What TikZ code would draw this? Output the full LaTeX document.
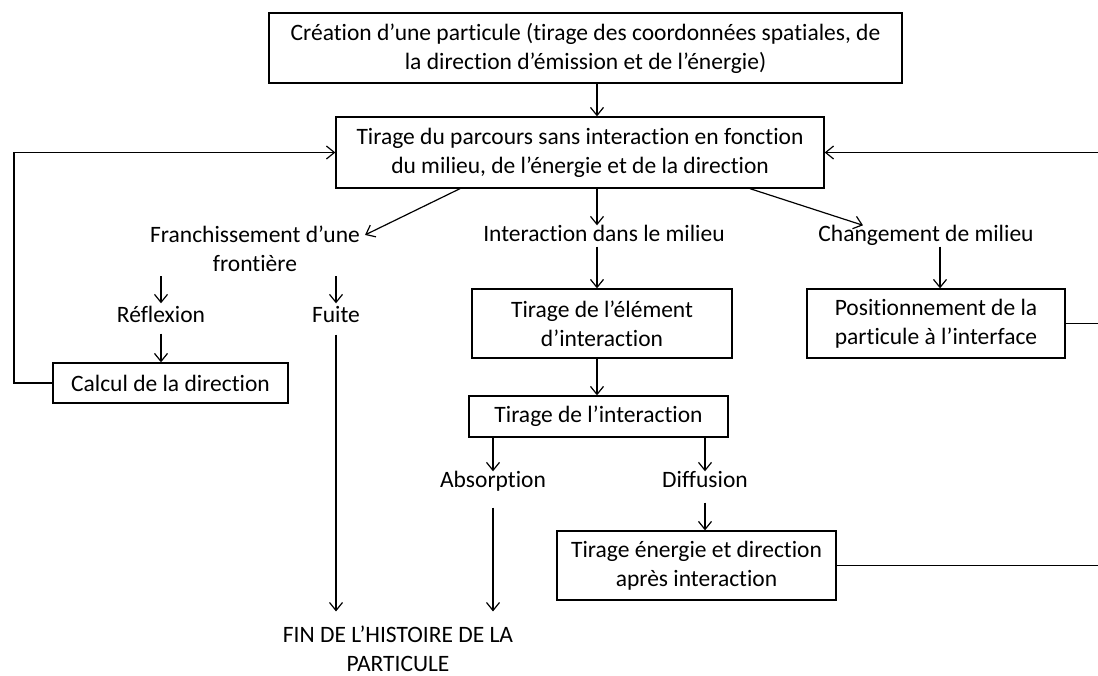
\documentclass[tikz,border=0pt]{standalone}
\usepackage{fontspec}
\setmainfont{Carlito}[Ligatures={NoCommon}]
\usetikzlibrary{arrows.meta,calc}
\begin{document}
\begin{tikzpicture}[x=1pt,y=-1pt,
  every node/.style={font=\fontsize{23.5}{29}\selectfont, align=center},
  box/.style={draw, line width=1.3pt, inner sep=0pt},
  lbl/.style={inner sep=0pt, text height=16pt, text depth=5pt},
  mlbl/.style={inner sep=0pt},
  arr/.style={line width=1.2pt, -{Straight Barb[length=8pt,width=13pt,line width=1.2pt]}},
  ln/.style={line width=1.2pt}]
\useasboundingbox[fill=white] (0,0) rectangle (1098,675);

% boxes
\node[box, minimum width=633pt, minimum height=70pt] (create) at (585.5,48)
  {Création d’une particule (tirage des coordonnées spatiales, de\\la direction d’émission et de l’énergie)};
\node[box, minimum width=488pt, minimum height=71pt] (parcours) at (580,152.5)
  {Tirage du parcours sans interaction en fonction\\du milieu, de l’énergie et de la direction};
\node[box, minimum width=235pt, minimum height=40pt] (calcul) at (170.5,383) {Calcul de la direction};
\node[box, minimum width=260pt, minimum height=69pt] (elem) at (602,323.5) {Tirage de l’élément\\d’interaction};
\node[box, minimum width=258pt, minimum height=69pt] (posit) at (936,323.5) {Positionnement de la\\particule à l’interface};
\node[box, minimum width=259pt, minimum height=41pt] (tinter) at (598.5,416.5) {Tirage de l’interaction};
\node[box, minimum width=279pt, minimum height=69pt] (tener) at (696.5,565.5) {Tirage énergie et direction\\après interaction};

% labels
\node[mlbl] (franch) at (255,249) {Franchissement d’une\\frontière};
\node[lbl] (inter) at (604,236) {Interaction dans le milieu};
\node[lbl] (chang) at (926,236) {Changement de milieu};
\node[lbl] (reflex) at (161,317) {Réflexion};
\node[lbl] (fuite) at (336,317) {Fuite};
\node[lbl] (absorp) at (493,482) {Absorption};
\node[lbl] (diffus) at (705,482) {Diffusion};
\node[mlbl] (fin) at (398,648.5) {FIN DE L’HISTOIRE DE LA\\PARTICULE};

% helper coordinates
\coordinate (trunk) at (597,0);
\coordinate (cx) at (940,0);
\coordinate (lx) at (14,0);
\coordinate (re) at (1098,155);

% connectors
\draw[arr] (create.south -| trunk) -- (parcours.north -| trunk);
\draw[arr] (parcours.south -| trunk) -- (inter.north -| trunk);
\draw[arr] ([xshift=-120pt]parcours.south) -- ([shift={(5pt,-9pt)}]franch.north east);
\draw[arr] ([xshift=170pt]parcours.south) -- ([xshift=-63pt]chang.north);

\draw[arr, shorten <=4pt] (franch.south -| reflex) -- ([yshift=3pt]reflex.north);
\draw[arr, shorten <=4pt] (franch.south -| fuite) -- ([yshift=3pt]fuite.north);
\draw[arr, shorten <=6pt] (reflex.south) -- (calcul.north -| reflex);
\draw[arr, shorten <=7pt, shorten >=14pt] (fuite.south) -- (fin.north -| fuite);

\draw[arr] (inter.south -| trunk) -- (elem.north -| trunk);
\draw[arr] (elem.south -| trunk) -- (tinter.north -| trunk);
\draw[arr] (tinter.south -| absorp) -- (absorp.north);
\draw[arr] (tinter.south -| diffus) -- (diffus.north);
\draw[arr, shorten <=15pt, shorten >=14pt] (absorp.south) -- (fin.north -| absorp);
\draw[arr, shorten <=10pt] (diffus.south) -- (tener.north -| diffus);

\draw[arr] (chang.south -| cx) -- (posit.north -| cx);

\draw[arr] (calcul.west) -- (calcul.west -| lx) |- (parcours.west);
\draw[arr] (re |- parcours.east) -- (parcours.east);
\draw[ln] (posit.east) -- (posit.east -| re);
\draw[ln] (tener.east) -- (tener.east -| re);
\end{tikzpicture}
\end{document}
